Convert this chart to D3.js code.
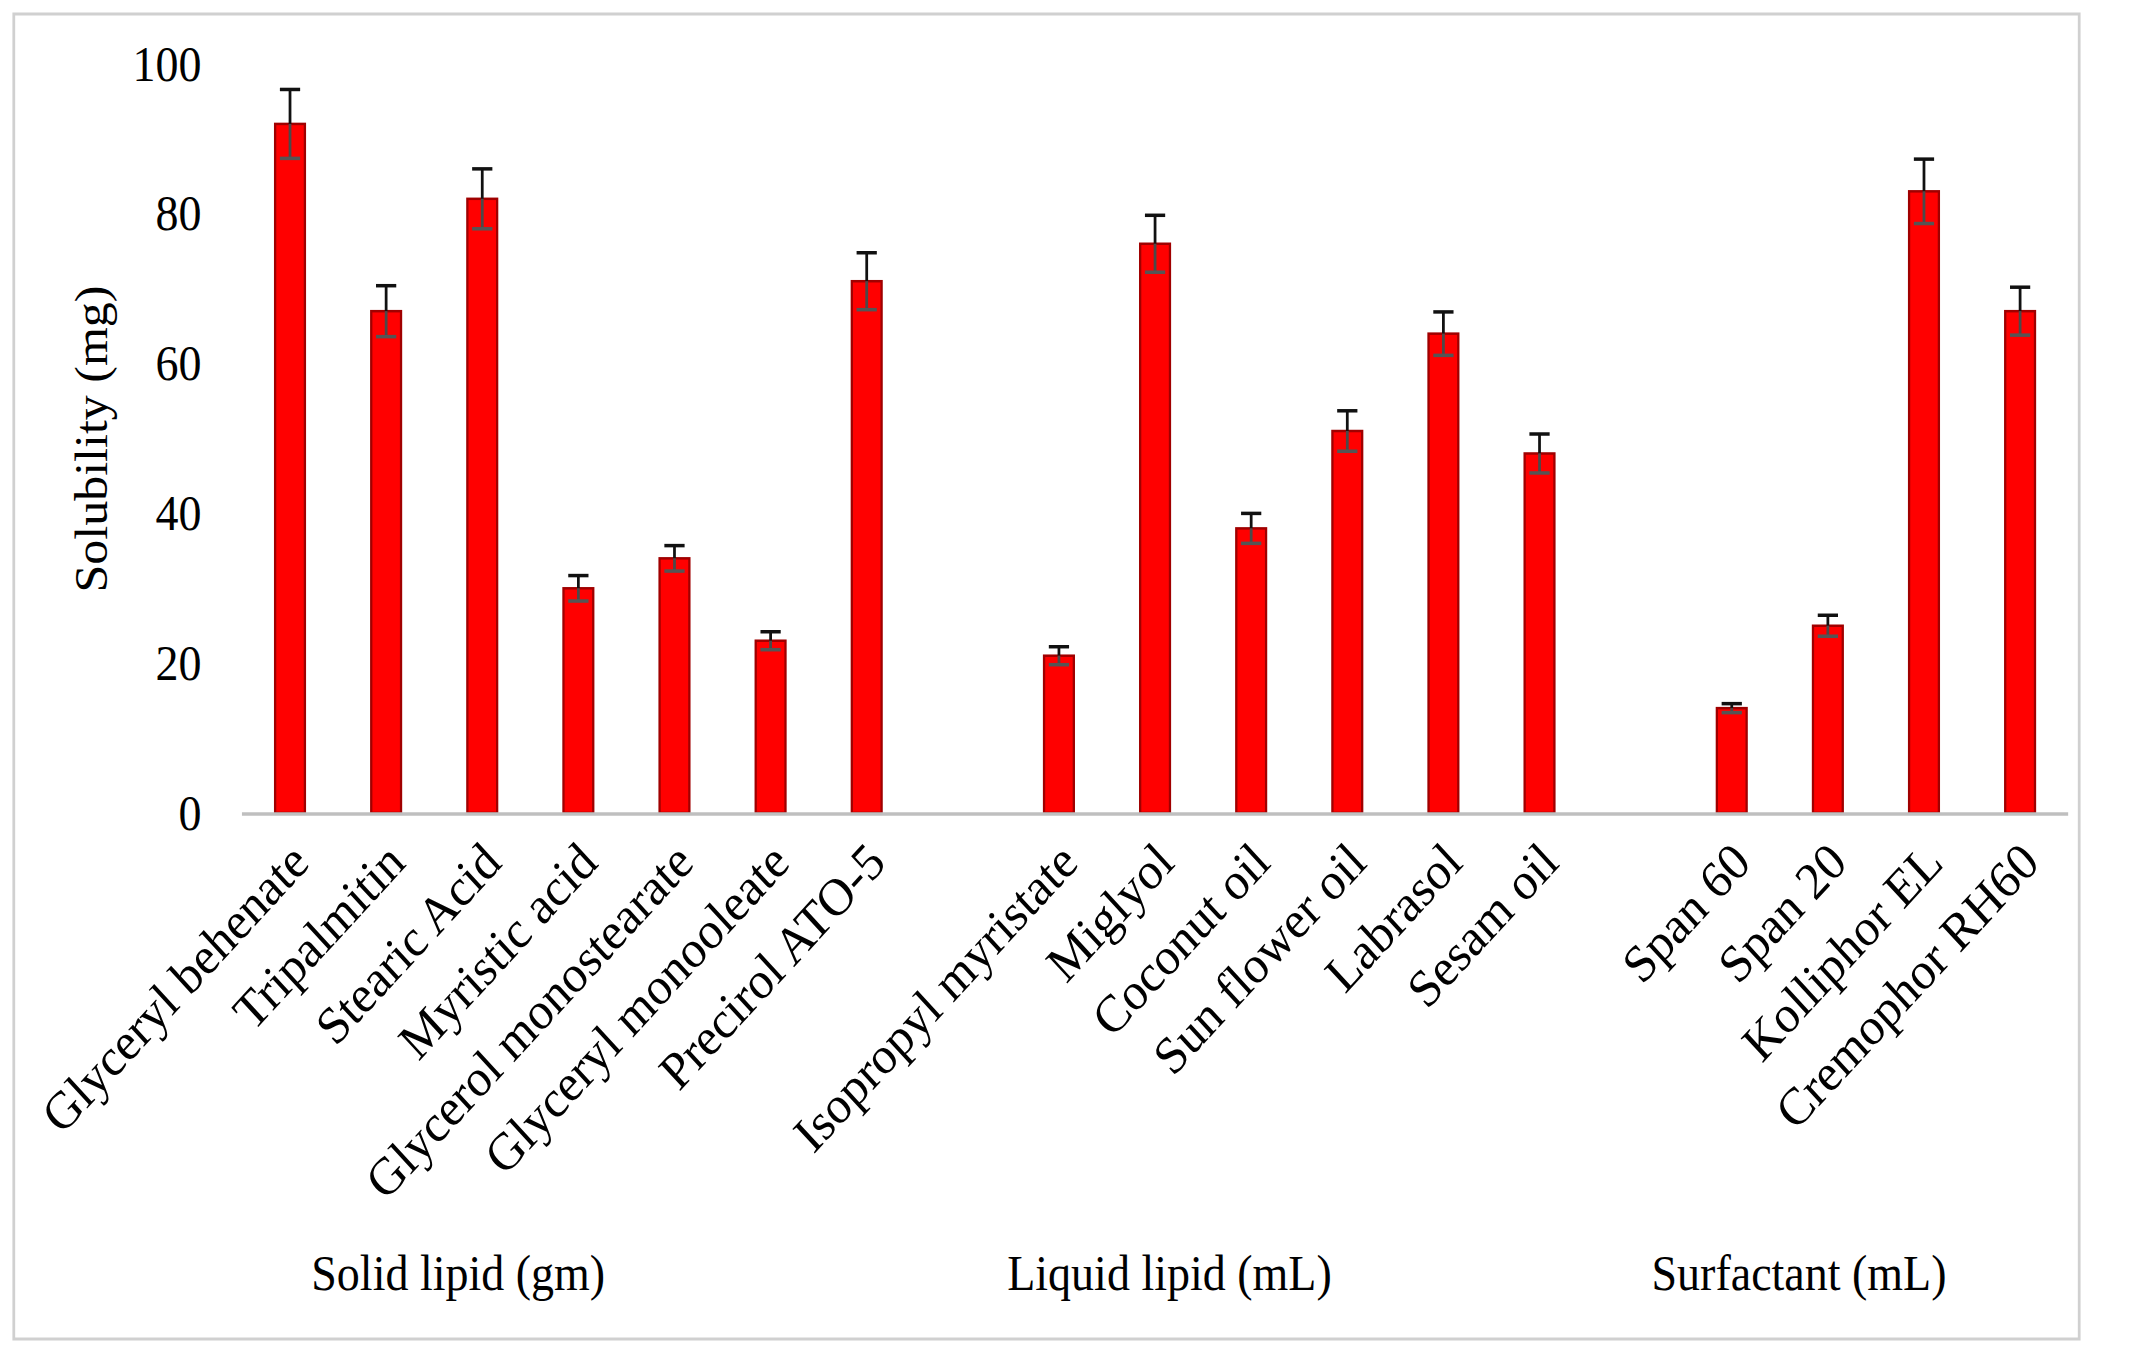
<!DOCTYPE html>
<html>
<head>
<meta charset="utf-8">
<script src="https://cdn.jsdelivr.net/npm/d3@7"></script>
<style>
  html, body { margin: 0; padding: 0; background: #fff; }
  text { font-family: "Liberation Serif", "Times New Roman", serif; fill: #000; }
</style>
</head>
<body>
<div id="chart"></div>
<script>
// data
const solidLipids = ["Glyceryl behenate", "Tripalmitin", "Stearic Acid", "Myristic acid",
    "Glycerol monostearate", "Glyceryl monooleate", "Precirol ATO-5"];
const solidValues = [92, 67, 82, 30, 34, 23, 71];
const solidErrors = [4.6, 3.4, 4, 1.7, 1.7, 1.2, 3.8];

const liquidLipids = ["Isopropyl myristate", "Miglyol", "Coconut oil", "Sun flower oil", "Labrasol", "Sesam oil"];
const liquidValues = [21, 76, 38, 51, 64, 48];
const liquidErrors = [1.2, 3.8, 2, 2.7, 2.9, 2.6];

const surfactants = ["Span 60", "Span 20", "Kolliphor EL", "Cremophor RH60"];
const surfactantValues = [14, 25, 83, 67];
const surfactantErrors = [0.6, 1.4, 4.3, 3.2];

const groupTitles = ["Solid lipid (gm)", "Liquid lipid (mL)", "Surfactant (mL)"];
const yTicks = [0, 20, 40, 60, 80, 100];

// the picture is squeezed horizontally, so draw in a wider space and scale x
const sx = 0.92;
const fullW = 2131, fullH = 1348;

const plot = { left: 263, right: 2248, top: 64, bottom: 813 };
const fontSize = 50;
const catFontSize = 52.5;

const rows = [];
const addGroup = (names, vals, errs) => {
    names.forEach((n, i) => rows.push({ name: n, value: vals[i], err: errs[i] }));
};
addGroup(solidLipids, solidValues, solidErrors);
const slots = rows.map(d => d.name).concat(["_gap1"]);
addGroup(liquidLipids, liquidValues, liquidErrors);
liquidLipids.forEach(n => slots.push(n));
slots.push("_gap2");
addGroup(surfactants, surfactantValues, surfactantErrors);
surfactants.forEach(n => slots.push(n));

const svg = d3.select("#chart").append("svg")
    .attr("width", fullW)
    .attr("height", fullH);

const g = svg.append("g").attr("transform", `scale(${sx},1)`);

// frame
g.append("rect")
    .attr("x", 15).attr("y", 14)
    .attr("width", 2260 - 15).attr("height", 1339 - 14)
    .attr("fill", "#fff")
    .attr("stroke", "#d0d0d0")
    .attr("stroke-width", 3);

const x = d3.scaleBand()
    .domain(slots)
    .range([plot.left, plot.right])
    .padding(0);

const y = d3.scaleLinear()
    .domain([0, 100])
    .range([plot.bottom, plot.top]);

const barW = x.bandwidth() * 0.31;
const cx = d => x(d.name) + x.bandwidth() / 2;

// y tick labels, no axis line
const yAxis = g.append("g")
    .attr("transform", `translate(${plot.left - 44},0)`)
    .call(d3.axisLeft(y).tickValues(yTicks).tickSize(0).tickPadding(0));
yAxis.select(".domain").remove();
yAxis.selectAll("text")
    .style("font-family", "Liberation Serif")
    .attr("font-size", fontSize)
    .attr("fill", "#000");

// bars
g.selectAll("rect.bar")
    .data(rows)
    .enter()
    .append("rect")
    .attr("class", "bar")
    .attr("x", d => cx(d) - barW / 2)
    .attr("y", d => y(d.value))
    .attr("width", barW)
    .attr("height", d => y(0) - y(d.value))
    .attr("fill", "#ff0000")
    .attr("stroke", "#a00000")
    .attr("stroke-width", 2.5);

// baseline
g.append("line")
    .attr("x1", plot.left).attr("x2", plot.right)
    .attr("y1", y(0) + 1).attr("y2", y(0) + 1)
    .attr("stroke", "#bfbfbf")
    .attr("stroke-width", 3.5);

// error bars: black above the bar top, grey inside it
const capW = 22;
const err = g.selectAll("g.err")
    .data(rows)
    .enter()
    .append("g")
    .attr("class", "err");
err.append("line")
    .attr("x1", cx).attr("x2", cx)
    .attr("y1", d => y(d.value + d.err)).attr("y2", d => y(d.value))
    .attr("stroke", "#111").attr("stroke-width", 3);
err.append("line")
    .attr("x1", cx).attr("x2", cx)
    .attr("y1", d => y(d.value)).attr("y2", d => y(d.value - d.err))
    .attr("stroke", "#4a4a4a").attr("stroke-width", 3);
err.append("line")
    .attr("x1", d => cx(d) - capW / 2).attr("x2", d => cx(d) + capW / 2)
    .attr("y1", d => y(d.value + d.err)).attr("y2", d => y(d.value + d.err))
    .attr("stroke", "#111").attr("stroke-width", 3.5);
err.append("line")
    .attr("x1", d => cx(d) - capW / 2).attr("x2", d => cx(d) + capW / 2)
    .attr("y1", d => y(d.value - d.err)).attr("y2", d => y(d.value - d.err))
    .attr("stroke", "#555").attr("stroke-width", 3.5);

// category labels, rotated
g.selectAll("text.cat")
    .data(rows)
    .enter()
    .append("text")
    .attr("class", "cat")
    .attr("text-anchor", "end")
    .attr("font-size", catFontSize)
    .attr("transform", d => `translate(${cx(d) + 23},${plot.bottom + 52}) rotate(-45)`)
    .text(d => d.name);

// group titles
const titleSlot = [2.25, 9.65, 16.2];
g.selectAll("text.group")
    .data(groupTitles)
    .enter()
    .append("text")
    .attr("class", "group")
    .attr("text-anchor", "middle")
    .attr("font-size", fontSize)
    .attr("x", (d, i) => plot.left + titleSlot[i] * x.step())
    .attr("y", 1290)
    .text(d => d);

// y title
g.append("text")
    .attr("text-anchor", "middle")
    .attr("font-size", fontSize)
    .attr("transform", `translate(${100 + fontSize * 0.33},439) rotate(-90)`)
    .text("Solubility  (mg)");
</script>
</body>
</html>
